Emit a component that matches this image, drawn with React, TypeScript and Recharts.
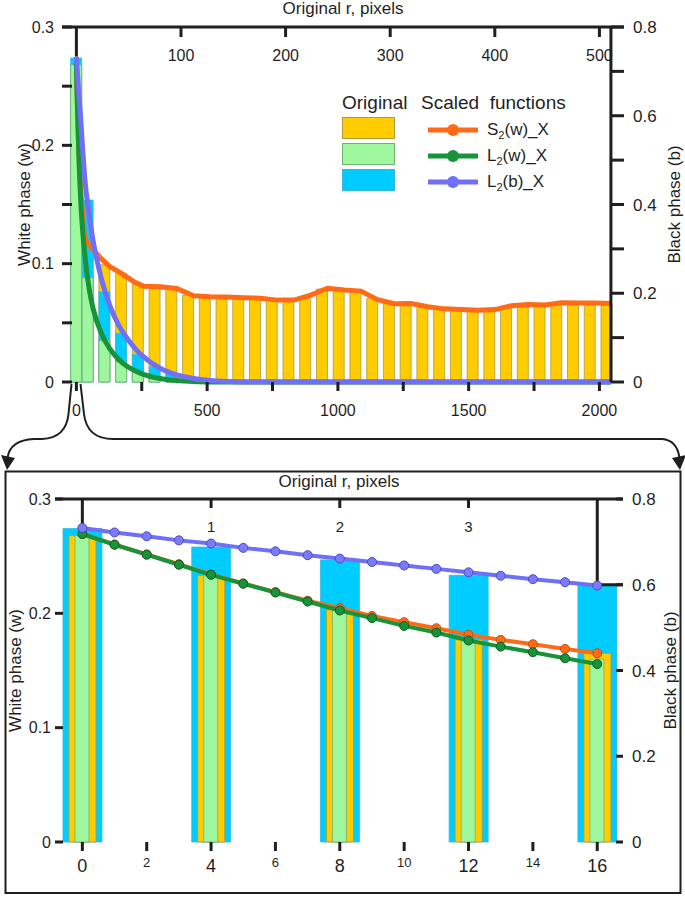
import { Bar, ComposedChart, Legend, Line, ReferenceLine, XAxis, YAxis } from "recharts";

const INK = "#1f1f1f";
const FONT = '"Liberation Sans", Arial, Helvetica, sans-serif';

const YELLOW = "#ffcc00";
const YELLOW_EDGE = "#b09a3c";
const LGREEN = "#9ef79c";
const LGREEN_EDGE = "#74b074";
const CYAN = "#00ccff";
const CYAN_EDGE = "#3ab8dc";
const ORANGE = "#ff6a17";
const ORANGE_EDGE = "#c4500c";
const GREEN = "#17933a";
const GREEN_EDGE = "#0c5e23";
const BLUE = "#6f6ff7";
const BLUE_EDGE = "#4a4ac8";

// both panels: plot bottom sits at y = 382 inside its own svg
const PLOT_BOTTOM = 382;

// ---- top panel: scaled functions (scaled r, px)
const topCurveR = [
  0, 4, 8, 12, 16, 24, 32, 48, 64, 96, 128, 160, 192, 224, 256, 320, 384, 448, 512, 576, 640, 704, 768, 832,
  896, 960, 1024, 1088, 1152, 1216, 1280, 1344, 1408, 1472, 1536, 1600, 1664, 1728, 1792, 1856, 1920, 1984, 2044,
];
const topS2w = [
  0.2694, 0.234, 0.2045, 0.1812, 0.1651, 0.14, 0.122, 0.116, 0.1115, 0.104, 0.0974, 0.0935, 0.0889, 0.0842,
  0.081, 0.0804, 0.079, 0.0728, 0.0721, 0.0718, 0.0713, 0.0708, 0.0692, 0.0692, 0.0735, 0.0792, 0.0778, 0.0768,
  0.0695, 0.0662, 0.0663, 0.0636, 0.0618, 0.0613, 0.0606, 0.0612, 0.0645, 0.0655, 0.065, 0.0669, 0.0667, 0.0668,
  0.0664,
];
const topL2w = [
  0.2694, 0.2337, 0.2025, 0.1762, 0.1557, 0.128, 0.108, 0.08, 0.062, 0.041, 0.028, 0.0195, 0.0135, 0.0095,
  0.0065, 0.003, 0.0013, 0.0004, 0, 0, 0, 0, 0, 0, 0, 0, 0, 0, 0, 0, 0, 0, 0, 0, 0, 0, 0, 0, 0, 0, 0, 0, 0,
];
const topL2b = [
  0.7325, 0.696, 0.661, 0.629, 0.598, 0.525, 0.46, 0.38, 0.318, 0.232, 0.172, 0.13, 0.1, 0.076, 0.057, 0.031,
  0.016, 0.008, 0.0035, 0.0012, 0, 0, 0, 0, 0, 0, 0, 0, 0, 0, 0, 0, 0, 0, 0, 0, 0, 0, 0, 0, 0, 0, 0,
];

// ---- top panel: original bars
const topBarR = [
  0, 44, 108, 172, 236, 300, 364, 428, 492, 556, 620, 684, 748, 812, 876, 940, 1004, 1068, 1132, 1196, 1260,
  1324, 1388, 1452, 1516, 1580, 1644, 1708, 1772, 1836, 1900, 1964, 2028,
];
const topBarS2w = [
  0.268, 0.117, 0.099, 0.092, 0.083, 0.0795, 0.0785, 0.0735, 0.0715, 0.0713, 0.071, 0.0705, 0.069, 0.0685,
  0.0705, 0.0785, 0.0775, 0.0765, 0.0705, 0.0665, 0.066, 0.0645, 0.0615, 0.061, 0.0605, 0.0605, 0.064, 0.065,
  0.065, 0.0665, 0.0665, 0.0665, 0.066,
];
const topBarL2w = [
  0.268, 0.088, 0.035, 0.017, 0.008, 0.0035, 0.0013, 0.0005, 0, 0, 0, 0, 0, 0, 0, 0, 0, 0, 0, 0, 0, 0, 0, 0, 0,
  0, 0, 0, 0, 0, 0, 0, 0,
];
const topBarL2b = [
  0.73, 0.41, 0.203, 0.11, 0.062, 0.034, 0.018, 0.009, 0.004, 0.0015, 0, 0, 0, 0, 0, 0, 0, 0, 0, 0, 0, 0, 0, 0,
  0, 0, 0, 0, 0, 0, 0, 0, 0,
];

// ---- bottom panel: zoom on the first 4 original pixels
const botCurveR = [0, 1, 2, 3, 4, 5, 6, 7, 8, 9, 10, 11, 12, 13, 14, 15, 16];
const botS2w = [
  0.2694, 0.2602, 0.2515, 0.243, 0.234, 0.2262, 0.2186, 0.211, 0.2045, 0.1978, 0.1923, 0.187, 0.1812, 0.1768,
  0.173, 0.1689, 0.1651,
];
const botL2w = [
  0.2694, 0.26, 0.2513, 0.2425, 0.2337, 0.2259, 0.2182, 0.2103, 0.2025, 0.1958, 0.189, 0.1832, 0.1762, 0.1709,
  0.166, 0.1607, 0.1557,
];
const botL2b = [
  0.7325, 0.722, 0.713, 0.7035, 0.696, 0.686, 0.678, 0.669, 0.661, 0.653, 0.645, 0.637, 0.629, 0.621, 0.613,
  0.606, 0.598,
];
const botBarR = [0, 4, 8, 12, 16];
const botBarS2w = [0.268, 0.233, 0.203, 0.177, 0.165];
const botBarL2w = [0.268, 0.233, 0.203, 0.177, 0.16];
const botBarL2b = [0.731, 0.688, 0.658, 0.622, 0.6];

// ---- ticks
const topScaledTicks = [0, 250, 500, 750, 1000, 1250, 1500, 1750, 2000];
const topOrigTicks = [400, 800, 1200, 1600, 2000];
const topWTicks = [0, 0.05, 0.1, 0.15, 0.2, 0.25, 0.3];
const topBTicks = [0, 0.1, 0.2, 0.3, 0.4, 0.5, 0.6, 0.7, 0.8];
const botScaledTicks = [0, 2, 4, 6, 8, 10, 12, 14, 16];
const botOrigTicks = [4, 8, 12];
const botWTicks = [0, 0.1, 0.2, 0.3];
const botBTicks = [0, 0.2, 0.4, 0.6, 0.8];

const legendBars = [
  { fill: YELLOW, stroke: YELLOW_EDGE },
  { fill: LGREEN, stroke: LGREEN_EDGE },
  { fill: CYAN, stroke: CYAN_EDGE },
];
const legendLines = [
  { base: "S", arg: "(w)_X", color: ORANGE },
  { base: "L", arg: "(w)_X", color: GREEN },
  { base: "L", arg: "(b)_X", color: BLUE },
];

function buildRows(
  curveR: number[],
  s2: number[],
  l2w: number[],
  l2b: number[],
  barR: number[],
  bs2: number[],
  bl2w: number[],
  bl2b: number[]
) {
  const rows = new Map<number, any>();
  const row = (r: number) => {
    if (!rows.has(r)) rows.set(r, { x: r });
    return rows.get(r);
  };
  curveR.forEach((r, i) => Object.assign(row(r), { s2: s2[i], l2w: l2w[i], l2b: l2b[i] }));
  barR.forEach((r, i) => Object.assign(row(r), { bx: r, yb: bs2[i], gb: bl2w[i], cb: bl2b[i] }));
  return [...rows.values()].sort((a, b) => a.x - b.x);
}

const topData = buildRows(topCurveR, topS2w, topL2w, topL2b, topBarR, topBarS2w, topBarL2w, topBarL2b);
const botData = buildRows(botCurveR, botS2w, botL2w, botL2b, botBarR, botBarS2w, botBarL2w, botBarL2b);

const fmt = (v: number) => (v === 0 ? "0" : v.toFixed(1));

function FigureLegend() {
  return (
    <div style={{ position: "relative", width: 250, height: 110, color: INK, fontFamily: FONT }}>
      <span style={{ position: "absolute", left: 2, top: 2, fontSize: 19, lineHeight: "22px" }}>Original</span>
      <span style={{ position: "absolute", left: 81, top: 2, fontSize: 19, lineHeight: "22px", whiteSpace: "pre" }}>
        Scaled  functions
      </span>
      {legendBars.map((b, i) => (
        <div
          key={i}
          style={{
            position: "absolute",
            left: 2,
            top: 27 + i * 26,
            width: 53,
            height: 22,
            boxSizing: "border-box",
            background: b.fill,
            border: `1px solid ${b.stroke}`,
          }}
        />
      ))}
      {legendLines.map((l, i) => (
        <div key={i} style={{ position: "absolute", left: 88, top: 28 + i * 26, width: 160, height: 24 }}>
          <svg width={50} height={24} style={{ position: "absolute", left: 0, top: 0 }}>
            <line x1={0} x2={50} y1={12} y2={12} stroke={l.color} strokeWidth={5} />
            <circle cx={25} cy={12} r={6} fill={l.color} />
          </svg>
          <span style={{ position: "absolute", left: 59, top: 0, fontSize: 17, lineHeight: "24px", whiteSpace: "nowrap" }}>
            {l.base}
            <sub style={{ fontSize: 11, lineHeight: 0 }}>2</sub>
            {l.arg}
          </span>
        </div>
      ))}
    </div>
  );
}

function TopChart() {
  return (
    <ComposedChart width={685} height={440} data={topData} margin={{ top: 0, right: 0, bottom: 0, left: 0 }} style={{ fontFamily: FONT }}>
      <XAxis
        xAxisId="s"
        dataKey="x"
        type="number"
        domain={[-55, 2094]}
        allowDataOverflow
        ticks={topScaledTicks}
        interval={0}
        height={58}
        tickSize={0}
        tickMargin={0}
        tickLine={false}
        axisLine={{ stroke: INK, strokeWidth: 3 }}
        tick={({ x, payload }: any) => (
          <g>
            <line x1={x} x2={x} y1={PLOT_BOTTOM} y2={PLOT_BOTTOM + 9} stroke={INK} strokeWidth={3} />
            {payload.value % 500 === 0 && (
              <text x={x} y={PLOT_BOTTOM + 34} textAnchor="middle" fontSize={16} fill={INK}>
                {payload.value}
              </text>
            )}
          </g>
        )}
        label={{ value: "Scaled r, pixels", position: "insideBottom", offset: 4, fill: INK, fontSize: 17 }}
      />
      <XAxis
        xAxisId="top"
        orientation="top"
        dataKey="x"
        type="number"
        domain={[-55, 2094]}
        allowDataOverflow
        ticks={topOrigTicks}
        interval={0}
        height={27}
        tickSize={0}
        tickMargin={0}
        tickLine={false}
        axisLine={{ stroke: INK, strokeWidth: 3 }}
        tick={({ x, y, payload }: any) => (
          <g>
            <line x1={x} x2={x} y1={y} y2={y + 10} stroke={INK} strokeWidth={3} />
            <text x={x} y={y + 34} textAnchor="middle" fontSize={16} fill={INK}>
              {payload.value / 4}
            </text>
          </g>
        )}
        label={{ value: "Original r, pixels", position: "insideTop", offset: 2, fill: INK, fontSize: 17 }}
      />
      <XAxis xAxisId="by" dataKey="bx" type="number" domain={[-55, 2094]} allowDataOverflow hide />
      <XAxis xAxisId="bc" dataKey="bx" type="number" domain={[-55, 2094]} allowDataOverflow hide />
      <XAxis xAxisId="bg" dataKey="bx" type="number" domain={[-55, 2094]} allowDataOverflow hide />
      <YAxis
        yAxisId="w"
        orientation="left"
        width={62}
        type="number"
        domain={[0, 0.3]}
        ticks={topWTicks}
        interval={0}
        tickSize={0}
        tickMargin={0}
        tickLine={false}
        axisLine={false}
        tick={({ x, y, payload }: any) => (
          <g>
            <line x1={x} x2={x + 10} y1={y} y2={y} stroke={INK} strokeWidth={3} />
            {Math.round(payload.value * 100) % 10 === 0 && (
              <text x={x - 8} y={y} dy="0.36em" textAnchor="end" fontSize={16} fill={INK}>
                {fmt(payload.value)}
              </text>
            )}
          </g>
        )}
        label={{ value: "White phase (w)", angle: -90, position: "insideLeft", offset: 24, fill: INK, fontSize: 17, style: { textAnchor: "middle" } }}
      />
      <YAxis
        yAxisId="b"
        orientation="right"
        width={61}
        type="number"
        domain={[0, 0.8]}
        ticks={topBTicks}
        interval={0}
        tickSize={0}
        tickMargin={0}
        tickLine={false}
        axisLine={false}
        tick={({ x, y, payload }: any) => (
          <g>
            <line x1={x} x2={x - 13} y1={y} y2={y} stroke={INK} strokeWidth={3} />
            {Math.round(payload.value * 10) % 2 === 0 && (
              <text x={x + 9} y={y} dy="0.36em" textAnchor="start" fontSize={17} fill={INK}>
                {fmt(payload.value)}
              </text>
            )}
          </g>
        )}
        label={{ value: "Black phase (b)", angle: -90, position: "insideRight", offset: 11, fill: INK, fontSize: 17, style: { textAnchor: "middle" } }}
      />
      <Bar xAxisId="by" yAxisId="w" dataKey="yb" barSize={11} fill={YELLOW} stroke={YELLOW_EDGE} strokeWidth={0.8} isAnimationActive={false} />
      <Bar xAxisId="bc" yAxisId="b" dataKey="cb" barSize={11} fill={CYAN} stroke={CYAN_EDGE} strokeWidth={0.8} isAnimationActive={false} />
      <Bar xAxisId="bg" yAxisId="w" dataKey="gb" barSize={11} fill={LGREEN} stroke={LGREEN_EDGE} strokeWidth={0.8} isAnimationActive={false} />
      <Line xAxisId="s" yAxisId="w" dataKey="s2" type="linear" connectNulls dot={false} stroke={ORANGE} strokeWidth={5} isAnimationActive={false} />
      <Line xAxisId="s" yAxisId="w" dataKey="l2w" type="monotone" connectNulls dot={false} stroke={GREEN} strokeWidth={5} isAnimationActive={false} />
      <Line xAxisId="s" yAxisId="b" dataKey="l2b" type="monotone" connectNulls dot={false} stroke={BLUE} strokeWidth={5} isAnimationActive={false} />
      <ReferenceLine xAxisId="s" yAxisId="w" segment={[{ x: 0, y: 0.3 }, { x: 0, y: 0.275 }]} stroke={INK} strokeWidth={3} ifOverflow="visible" />
      <ReferenceLine xAxisId="s" yAxisId="w" x={2044} stroke={INK} strokeWidth={3} />
      <Legend
        layout="horizontal"
        verticalAlign="middle"
        align="center"
        wrapperStyle={{ left: 340, top: 90, width: 250, height: 110 }}
        content={() => <FigureLegend />}
      />
    </ComposedChart>
  );
}

function BottomChart() {
  return (
    <ComposedChart width={685} height={437} data={botData} margin={{ top: 0, right: 0, bottom: 0, left: 0 }} style={{ fontFamily: FONT }}>
      <XAxis
        xAxisId="s"
        dataKey="x"
        type="number"
        domain={[-0.85, 16.8]}
        allowDataOverflow
        ticks={botScaledTicks}
        interval={0}
        height={55}
        tickSize={0}
        tickMargin={0}
        tickLine={false}
        axisLine={{ stroke: INK, strokeWidth: 3 }}
        tick={({ x, payload }: any) => {
          const major = payload.value % 4 === 0;
          return (
            <g>
              <line x1={x} x2={x} y1={PLOT_BOTTOM} y2={PLOT_BOTTOM + 9} stroke={INK} strokeWidth={3} />
              <text x={x} y={PLOT_BOTTOM + (major ? 30 : 25)} textAnchor="middle" fontSize={major ? 18 : 13} fill={INK}>
                {payload.value}
              </text>
            </g>
          );
        }}
        label={{ value: "Scaled r, pixels", position: "insideBottom", offset: 10, fill: INK, fontSize: 17 }}
      />
      <XAxis
        xAxisId="top"
        orientation="top"
        dataKey="x"
        type="number"
        domain={[-0.85, 16.8]}
        allowDataOverflow
        ticks={botOrigTicks}
        interval={0}
        height={39}
        tickSize={0}
        tickMargin={0}
        tickLine={false}
        axisLine={{ stroke: INK, strokeWidth: 3 }}
        tick={({ x, y, payload }: any) => (
          <g>
            <line x1={x} x2={x} y1={y} y2={y + 9} stroke={INK} strokeWidth={3} />
            <text x={x} y={y + 33} textAnchor="middle" fontSize={15} fill={INK}>
              {payload.value / 4}
            </text>
          </g>
        )}
        label={{ value: "Original r, pixels", position: "insideTop", offset: 15, fill: INK, fontSize: 17 }}
      />
      <XAxis xAxisId="by" dataKey="bx" type="number" domain={[-0.85, 16.8]} allowDataOverflow hide />
      <XAxis xAxisId="bc" dataKey="bx" type="number" domain={[-0.85, 16.8]} allowDataOverflow hide />
      <XAxis xAxisId="bg" dataKey="bx" type="number" domain={[-0.85, 16.8]} allowDataOverflow hide />
      <YAxis
        yAxisId="w"
        orientation="left"
        width={55}
        type="number"
        domain={[0, 0.3]}
        ticks={botWTicks}
        interval={0}
        tickSize={0}
        tickMargin={0}
        tickLine={false}
        axisLine={false}
        tick={({ x, y, payload }: any) => (
          <g>
            <line x1={x} x2={x + 8} y1={y} y2={y} stroke={INK} strokeWidth={3} />
            <text x={x - 4} y={y} dy="0.36em" textAnchor="end" fontSize={16} fill={INK}>
              {fmt(payload.value)}
            </text>
          </g>
        )}
        label={{ value: "White phase (w)", angle: -90, position: "insideLeft", offset: 15, fill: INK, fontSize: 17, style: { textAnchor: "middle" } }}
      />
      <YAxis
        yAxisId="b"
        orientation="right"
        width={62}
        type="number"
        domain={[0, 0.8]}
        ticks={botBTicks}
        interval={0}
        tickSize={0}
        tickMargin={0}
        tickLine={false}
        axisLine={false}
        tick={({ x, y, payload }: any) => (
          <g>
            <line x1={x} x2={x - 7} y1={y} y2={y} stroke={INK} strokeWidth={3} />
            <text x={x + 9} y={y} dy="0.36em" textAnchor="start" fontSize={17} fill={INK}>
              {fmt(payload.value)}
            </text>
          </g>
        )}
        label={{ value: "Black phase (b)", angle: -90, position: "insideRight", offset: 15, fill: INK, fontSize: 17, style: { textAnchor: "middle" } }}
      />
      <Bar xAxisId="bc" yAxisId="b" dataKey="cb" barSize={39} fill={CYAN} stroke={CYAN_EDGE} strokeWidth={0.8} isAnimationActive={false} />
      <Bar xAxisId="by" yAxisId="w" dataKey="yb" barSize={27} fill={YELLOW} stroke={YELLOW_EDGE} strokeWidth={0.8} isAnimationActive={false} />
      <Bar xAxisId="bg" yAxisId="w" dataKey="gb" barSize={14} fill={LGREEN} stroke={LGREEN_EDGE} strokeWidth={0.8} isAnimationActive={false} />
      <Line
        xAxisId="s"
        yAxisId="w"
        dataKey="s2"
        type="linear"
        connectNulls
        stroke={ORANGE}
        strokeWidth={4}
        dot={{ r: 4.5, fill: ORANGE, stroke: ORANGE_EDGE, strokeWidth: 1 }}
        activeDot={false}
        isAnimationActive={false}
      />
      <Line
        xAxisId="s"
        yAxisId="w"
        dataKey="l2w"
        type="linear"
        connectNulls
        stroke={GREEN}
        strokeWidth={4}
        dot={{ r: 4.5, fill: GREEN, stroke: GREEN_EDGE, strokeWidth: 1 }}
        activeDot={false}
        isAnimationActive={false}
      />
      <Line
        xAxisId="s"
        yAxisId="b"
        dataKey="l2b"
        type="linear"
        connectNulls
        stroke={BLUE}
        strokeWidth={4}
        dot={{ r: 4.5, fill: "#7b7bfa", stroke: BLUE_EDGE, strokeWidth: 1 }}
        activeDot={false}
        isAnimationActive={false}
      />
      <ReferenceLine xAxisId="s" yAxisId="w" segment={[{ x: 0, y: 0.3 }, { x: 0, y: 0.275 }]} stroke={INK} strokeWidth={3} ifOverflow="visible" />
      <ReferenceLine xAxisId="s" yAxisId="w" segment={[{ x: 16, y: 0.3 }, { x: 16, y: 0.225 }]} stroke={INK} strokeWidth={3} ifOverflow="visible" />
      <ReferenceLine xAxisId="s" yAxisId="w" segment={[{ x: 16, y: 0.225 }, { x: 16.8, y: 0.225 }]} stroke={INK} strokeWidth={3} ifOverflow="visible" />
    </ComposedChart>
  );
}

export default function App() {
  return (
    <div style={{ position: "absolute", left: 0, top: 0, width: 685, height: 897, background: "#fff", fontFamily: FONT }}>
      <div style={{ position: "absolute", left: 0, top: 0 }}>
        <TopChart />
      </div>
      <div style={{ position: "absolute", left: 0, top: 460 }}>
        <BottomChart />
      </div>
      {/* zoom connectors from the 0 tick to the lower panel */}
      <svg width={685} height={897} style={{ position: "absolute", left: 0, top: 0, pointerEvents: "none" }}>
        <path d="M71.5 384 L68.5 414 Q66 438 42 439 L34 439 Q10 440 7.5 458" fill="none" stroke={INK} strokeWidth={2} />
        <polygon points="1,455 15,458 7,470" fill={INK} />
        <path d="M80.5 384 L84 414 Q87 439 113 439 L662 439 Q677 440 679.5 458" fill="none" stroke={INK} strokeWidth={2} />
        <polygon points="672,458 686,455 680,470" fill={INK} />
        <rect x={5.5} y={471.5} width={675} height={421.5} fill="none" stroke={INK} strokeWidth={2} />
      </svg>
    </div>
  );
}
